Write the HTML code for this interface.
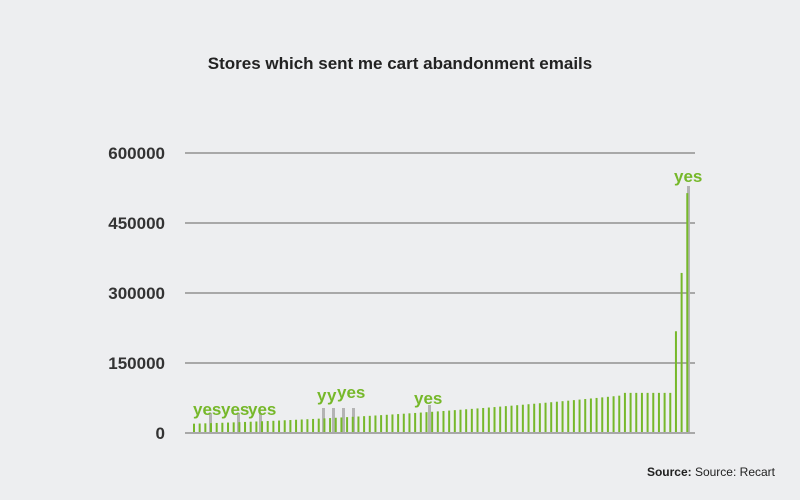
<!DOCTYPE html>
<html><head><style>
body{margin:0;width:800px;height:500px;background:#edeef0;overflow:hidden}
svg{display:block}
text{font-family:"Liberation Sans",sans-serif}
</style></head><body>
<svg id="s" width="800" height="500" xmlns="http://www.w3.org/2000/svg">
<text x="400" y="69" text-anchor="middle" font-size="17" font-weight="bold" fill="#222">Stores which sent me cart abandonment emails</text>
<g stroke="#a8a8a8" stroke-width="2">
<line x1="185" x2="695" y1="153" y2="153"/>
<line x1="185" x2="695" y1="223" y2="223"/>
<line x1="185" x2="695" y1="293" y2="293"/>
<line x1="185" x2="695" y1="363" y2="363"/>
</g>
<g font-size="17" font-weight="bold" fill="#333" text-anchor="end">
<text x="165" y="159">600000</text>
<text x="165" y="229">450000</text>
<text x="165" y="299">300000</text>
<text x="165" y="369">150000</text>
<text x="165" y="439">0</text>
</g>
<g id="gray" fill="#b4b4b4"></g>
<g id="bars" fill="#76b82a"></g>
<line x1="185" x2="695" y1="433" y2="433" stroke="#a8a8a8" stroke-width="2"/>
<g font-size="17" font-weight="bold" fill="#76b82a">
<text x="193" y="415">yes</text><text x="221" y="415">yes</text><text x="248" y="415">yes</text>
<text x="317" y="401">y</text><text x="327" y="401">y</text><text x="337" y="398">yes</text>
<text x="414" y="404">yes</text>
<text x="674" y="182">yes</text>
</g>
<text x="775" y="476" text-anchor="end" font-size="12" fill="#222"><tspan font-weight="bold">Source:</tspan> Source: Recart</text>
</svg>
<script>
var ns="http://www.w3.org/2000/svg",b=document.getElementById('bars'),g=document.getElementById('gray');
function r(p,x,top,w){var e=document.createElementNS(ns,'rect');e.setAttribute('x',x-1);e.setAttribute('y',top);e.setAttribute('width',w);e.setAttribute('height',433-top);p.appendChild(e);}
[[210,413],[238,413],[260,413],[323,408],[333,408],[343,408],[353,408],[429,405],[688,186]].forEach(function(a){r(g,a[0],a[1],3);});
for(var i=0;i<88;i++){var v;
if(i<76){var t=i/75;v=20000+60000*(0.45*t+0.55*t*t);}
else if(i<85)v=86000;else v=[218000,343000,514000][i-85];
r(b,194+i*5.67,433-v*280/600000,2);}
</script>
</body></html>
